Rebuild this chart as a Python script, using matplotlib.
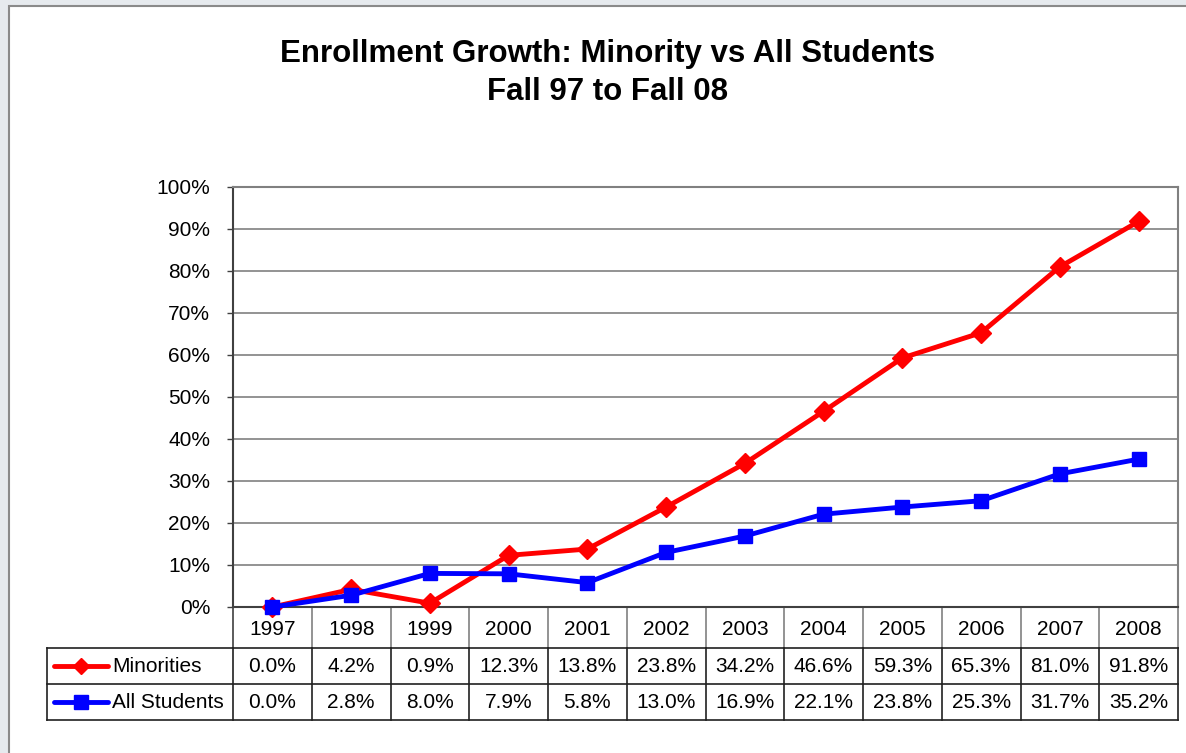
import matplotlib
matplotlib.use("Agg")
import matplotlib.pyplot as plt
from matplotlib.lines import Line2D
from matplotlib.patches import Rectangle
import matplotlib.transforms as mtransforms

plt.rcParams['font.family'] = ['Liberation Sans', 'DejaVu Sans']

years = ['1997', '1998', '1999', '2000', '2001', '2002', '2003', '2004', '2005', '2006', '2007', '2008']
minorities = [0.0, 4.2, 0.9, 12.3, 13.8, 23.8, 34.2, 46.6, 59.3, 65.3, 81.0, 91.8]
all_students = [0.0, 2.8, 8.0, 7.9, 5.8, 13.0, 16.9, 22.1, 23.8, 25.3, 31.7, 35.2]
yticks = [0, 10, 20, 30, 40, 50, 60, 70, 80, 90, 100]
title_lines = ["Enrollment Growth: Minority vs All Students", "Fall 97 to Fall 08"]

W, H = 1186, 753
fig = plt.figure(figsize=(W / 100, H / 100), dpi=100)
fig.patch.set_facecolor('#e6eaee')

# white chart frame
frame = Rectangle((9 / W, -0.05), 1.2, (H - 6) / H + 0.05, transform=fig.transFigure,
                  facecolor='white', edgecolor='#8a8a8a', linewidth=1.5, zorder=-10)
fig.patches.append(frame)

L, R, T, B = 233, 1178, 187, 607
ax = fig.add_axes([L / W, (H - B) / H, (R - L) / W, (B - T) / H])
ax.set_zorder(1)
ax.set_facecolor('white')

x = list(range(len(years)))
ax.set_xlim(-0.5, len(years) - 0.5)
ax.set_ylim(0, 100)
ax.set_yticks(yticks)
ax.set_yticklabels([f"{v}%" for v in yticks], fontsize=15)
ax.set_xticks([])
ax.tick_params(axis='y', direction='out', length=4.5, width=1, color='#404040', pad=12)
ax.yaxis.grid(True, color='#808080', linewidth=1.2)
ax.set_axisbelow(True)
for s in ['top', 'right']:
    ax.spines[s].set_color('#808080')
    ax.spines[s].set_linewidth(1.5)
ax.spines['left'].set_color('#404040')
ax.spines['left'].set_linewidth(1.5)
ax.spines['bottom'].set_color('#404040')
ax.spines['bottom'].set_linewidth(1.5)

red = '#ff0000'
blue = '#0000ff'
ax.plot(x, minorities, color=red, lw=3.5, marker='D', ms=10, zorder=3, clip_on=False)
ax.plot(x, all_students, color=blue, lw=3.5, marker='s', ms=10, zorder=4, clip_on=False)

tx_c = 608 / W
fig.text(tx_c, 1 - 54 / H, title_lines[0], ha='center', va='center',
         fontsize=22.5, fontweight='bold')
fig.text(tx_c, 1 - 92 / H, title_lines[1], ha='center', va='center',
         fontsize=22.5, fontweight='bold')

# data table beneath the axes
ph = B - T
def ay(py):
    return (B - py) / ph

trans = mtransforms.blended_transform_factory(ax.transData, ax.transAxes)
y0, y1, y2, y3 = ay(607), ay(648), ay(684), ay(720)
xl = (47 - L) / (R - L)

for i in range(len(years) + 1):
    xb = i - 0.5
    col = '#404040' if i == 0 else '#808080'
    ax.add_line(Line2D([xb, xb], [y0, y1], transform=trans, color=col, lw=1.2, clip_on=False))
    ax.add_line(Line2D([xb, xb], [y1, y3], transform=trans, color='#202020', lw=1.2, clip_on=False))
for yy in [y1, y2, y3]:
    ax.add_line(Line2D([xl, 1], [yy, yy], transform=ax.transAxes, color='#202020', lw=1.2, clip_on=False))
ax.add_line(Line2D([xl, xl], [y1, y3], transform=ax.transAxes, color='#202020', lw=1.2, clip_on=False))

for i, yr in enumerate(years):
    ax.text(i, (y0 + y1) / 2 - 0.004, yr, transform=trans, ha='center', va='center', fontsize=15)
    ax.text(i, (y1 + y2) / 2, f"{minorities[i]:.1f}%", transform=trans, ha='center', va='center', fontsize=15)
    ax.text(i, (y2 + y3) / 2, f"{all_students[i]:.1f}%", transform=trans, ha='center', va='center', fontsize=15)

kx0 = (54 - L) / (R - L)
kx1 = (108 - L) / (R - L)
kxm = (kx0 + kx1) / 2
tx = (112 - L) / (R - L)
for (yy_a, yy_b), col, mk, ms, lab in [((y1, y2), red, 'D', 8, 'Minorities'),
                                       ((y2, y3), blue, 's', 10, 'All Students')]:
    ym = (yy_a + yy_b) / 2
    ax.add_line(Line2D([kx0, kx1], [ym, ym], transform=ax.transAxes, color=col, lw=3.5,
                       solid_capstyle='round', clip_on=False))
    ax.add_line(Line2D([kxm], [ym], transform=ax.transAxes, color=col, marker=mk, ms=ms,
                       clip_on=False))
    ax.text(tx, ym, lab, transform=ax.transAxes, ha='left', va='center', fontsize=15)

fig.savefig('out.png', dpi=100, facecolor=fig.get_facecolor())
